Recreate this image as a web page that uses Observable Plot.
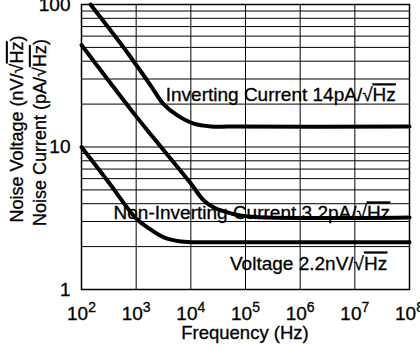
<!DOCTYPE html>
<html>
<head>
<meta charset="utf-8">
<script src="https://cdn.jsdelivr.net/npm/d3@7"></script>
<script src="https://cdn.jsdelivr.net/npm/@observablehq/plot@0.6"></script>
<style>
  html, body { margin: 0; padding: 0; background: white; }
  #chart { width: 420px; height: 345px; }
  #chart text { stroke: black; stroke-width: 0.3px; }
</style>
</head>
<body>
<div id="chart"></div>
<script>
// ---- data ----
const xTicks = [1e2, 1e3, 1e4, 1e5, 1e6, 1e7, 1e8];
const yTicks = [1, 10, 100];
const yGrid = [1,2,3,4,5,6,7,8,9,10,20,30,40,50,60,70,80,90,100];

const invFreq  = [146, 520, 1020, 1845, 3196, 5770, 11350, 23300, 50000, 1e8];
const invNoise = [100, 53.2, 37.3, 27.0, 19.9, 16.6, 14.6, 13.95, 13.9, 13.9];

const nonFreq  = [100, 1000, 2280, 10000, 17300, 26400, 54200, 111000, 1e8];
const nonNoise = [52, 16.4, 11.1, 5.54, 4.21, 3.76, 3.42, 3.25, 3.2];

const voltFreq  = [100, 316, 1000, 1626, 3200, 6560, 10000, 30000, 1e8];
const voltNoise = [10, 5.63, 3.15, 2.72, 2.32, 2.17, 2.15, 2.15, 2.15];

const labelText  = ["Inverting Current 14pA/√Hz", "Non-Inverting Current 3.2pA/√Hz", "Voltage 2.2nV/√Hz"];
const labelFreq  = [3475, 386, 52000];
const labelValue = [20.9, 3.10, 1.38];

const yTitles = ["Noise Voltage (nV/√Hz)", "Noise Current (pA/√Hz)"];
const xTitle = "Frequency (Hz)";

// ---- build tables ----
const toRows = (fs, vs) => fs.map((f, i) => ({f, v: vs[i]}));
const series = [toRows(invFreq, invNoise), toRows(nonFreq, nonNoise), toRows(voltFreq, voltNoise)];
const labels = labelText.map((t, i) => ({t, f: labelFreq[i], v: labelValue[i]}));

const font = "'Liberation Sans', Arial, Helvetica, sans-serif";

const svg = Plot.plot({
  width: 420,
  height: 345,
  marginLeft: 81,
  marginRight: 11,
  marginTop: 4,
  marginBottom: 56,
  style: {fontFamily: font, fontSize: "19px", background: "white", color: "black", overflow: "visible"},
  x: {type: "log", domain: [1e2, 1e8], ticks: xTicks, tickSize: 0, tickPadding: 17,
      tickFormat: d => "10^" + Math.round(Math.log10(d)), label: null},
  y: {type: "log", domain: [1, 100], ticks: yTicks, tickSize: 0, tickPadding: 11,
      tickFormat: d => String(d), label: null},
  marks: [
    Plot.ruleY(yGrid, {stroke: "black", strokeWidth: 1}),
    Plot.ruleX(xTicks, {stroke: "black", strokeWidth: 1}),
    ...series.map(s => Plot.line(s, {x: "f", y: "v", stroke: "black", strokeWidth: 4, curve: "catmull-rom"})),
    Plot.text(labels, {x: "f", y: "v", text: "t", textAnchor: "start", lineAnchor: "bottom", fontSize: 19, fill: "black"}),
    Plot.frame({stroke: "black", strokeWidth: 1.5})
  ]
});

const root = d3.select(svg);

// superscript exponents on x tick labels
root.selectAll('g[aria-label="x-axis tick label"] text').each(function() {
  const s = this.textContent;
  const [base, exp] = s.split("^");
  const t = d3.select(this);
  t.text(base);
  t.append("tspan").attr("font-size", "14px").attr("dy", "-8").text(exp);
});

// sqrt overline helper
function sqrtify(node) {
  const s = node.textContent;
  if (!s.includes("√Hz")) return;
  const [before, after] = s.split("√Hz");
  const t = d3.select(node);
  t.text(null);
  t.append("tspan").text(before + "√");
  t.append("tspan").style("text-decoration", "overline").text("Hz");
  if (after) t.append("tspan").text(after);
}
root.selectAll('g[aria-label="text"] text').each(function() { sqrtify(this); });

// y-axis titles (two rotated lines)
const yPos = [[23, 129], [46, 132.5]];
yTitles.forEach((s, i) => {
  const t = root.append("text")
    .attr("transform", `translate(${yPos[i][0]},${yPos[i][1]}) rotate(-90)`)
    .attr("text-anchor", "middle")
    .attr("font-size", "18px")
    .attr("fill", "black")
    .text(s);
  sqrtify(t.node());
});

// x-axis title
root.append("text")
  .attr("x", 245).attr("y", 339)
  .attr("text-anchor", "middle")
  .attr("font-size", "18.5px")
  .attr("fill", "black")
  .text(xTitle);

document.getElementById("chart").appendChild(svg);
</script>
</body>
</html>
